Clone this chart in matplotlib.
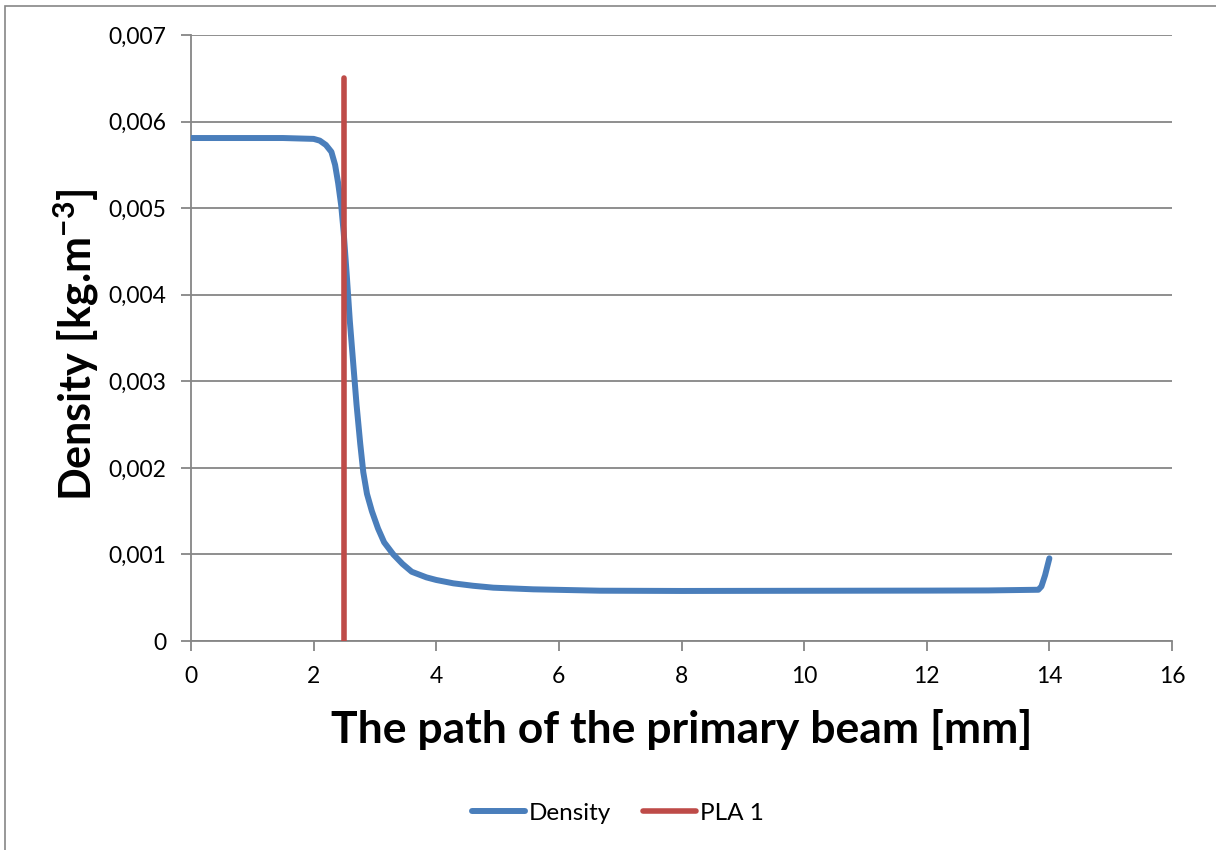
import matplotlib
matplotlib.use("Agg")
from matplotlib import pyplot as plt
from matplotlib.patches import Rectangle
from matplotlib.ticker import FuncFormatter

# density along the primary beam path
path_mm = [0.0, 0.5, 1.0, 1.5, 2.0, 2.1, 2.2, 2.29, 2.35, 2.40, 2.45, 2.49,
           2.54, 2.59, 2.65, 2.70, 2.76, 2.81, 2.87, 2.95, 3.05, 3.15, 3.30,
           3.45, 3.60, 3.84, 4.0, 4.28, 4.6, 4.93, 5.58, 6.67, 8.0, 10.0,
           12.0, 13.0, 13.82, 13.87, 13.93, 14.0]
density = [0.00581, 0.00581, 0.00581, 0.00581, 0.00580, 0.00578, 0.00573,
           0.00565, 0.00550, 0.00529, 0.00503, 0.00472, 0.00423, 0.00370,
           0.00317, 0.00273, 0.00228, 0.00195, 0.00170, 0.00150, 0.00130,
           0.00114, 0.00100, 0.00089, 0.00080, 0.000735, 0.000705, 0.000666,
           0.000638, 0.000616, 0.000597, 0.000581, 0.000578, 0.000580,
           0.000582, 0.000584, 0.000592, 0.00063, 0.00076, 0.000955]

pla_x = [2.5, 2.5]
pla_y = [0.0, 0.0065]

blue = "#4A7EBB"
red = "#BE4B48"
grid_col = "#868686"

plt.rcParams['font.family'] = ['Lato', 'DejaVu Sans']
plt.rcParams['mathtext.fontset'] = 'custom'
plt.rcParams['mathtext.rm'] = 'Lato'
plt.rcParams['mathtext.bf'] = 'Lato:bold'

fig = plt.figure(figsize=(12.16, 8.5), dpi=100)
fig.patches.append(Rectangle((5 / 1216, -0.1), 1.2, 1.1 - 6 / 850,
                             transform=fig.transFigure, fill=False,
                             edgecolor=grid_col, linewidth=1.2))
ax = fig.add_axes([191 / 1216, 1 - 641 / 850, (1172 - 191) / 1216, (641 - 35) / 850])

ax.plot(path_mm, density, color=blue, linewidth=4.3, label="Density",
        solid_capstyle='round', solid_joinstyle='round', zorder=3)
ax.plot(pla_x, pla_y, color=red, linewidth=4.0, label="PLA 1",
        solid_capstyle='round', zorder=4)

ax.set_xlim(0, 16)
ax.set_ylim(0, 0.007)
ax.set_xticks(range(0, 17, 2))
ax.set_yticks([i * 0.001 for i in range(8)])
ax.yaxis.set_major_formatter(FuncFormatter(
    lambda v, p: "0" if abs(v) < 1e-12 else ("%.3f" % v).replace(".", ",")))

ax.grid(axis='y', color=grid_col, linewidth=1.3)
ax.set_axisbelow(True)
for s in ['top', 'right']:
    ax.spines[s].set_visible(False)
for s in ['left', 'bottom']:
    ax.spines[s].set_color(grid_col)
    ax.spines[s].set_linewidth(1.3)
ax.tick_params(axis='both', direction='out', length=7, width=1.3,
               color=grid_col, labelsize=16.5)
ax.tick_params(axis='x', pad=11)
ax.tick_params(axis='y', pad=11)

fig.text(76 / 1216, 1 - 345 / 850, "Density [kg.m$^{\\mathbf{-3}}$]",
         rotation=90, ha='center', va='center', fontsize=31, fontweight='bold')
fig.text(682 / 1216, 1 - 729 / 850, "The path of the primary beam [mm]",
         ha='center', va='center', fontsize=32, fontweight='bold')

fig.legend(loc='center', bbox_to_anchor=(618 / 1216, 1 - 813 / 850), ncol=2,
           frameon=False, fontsize=17.5, handlelength=2.2, handletextpad=0.15,
           columnspacing=1.3)

fig.savefig("out.png", dpi=100)
